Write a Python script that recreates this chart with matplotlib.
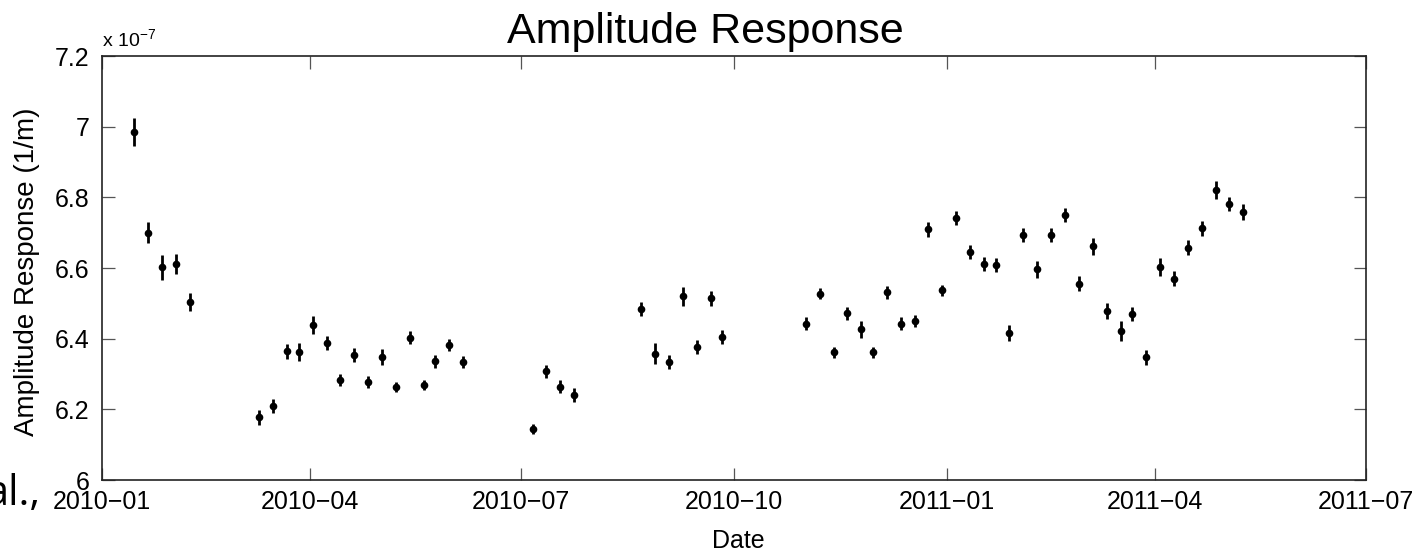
import matplotlib
matplotlib.use("Agg")
import matplotlib.pyplot as plt
import matplotlib.dates as mdates
import numpy as np
import pandas as pd

plt.rcParams['font.family'] = ['Liberation Sans', 'DejaVu Sans']
plt.rcParams['mathtext.default'] = 'regular'

# ---- data ----
dates = [
    "2010-01-15", "2010-01-21", "2010-01-27", "2010-02-02", "2010-02-08",
    "2010-03-10", "2010-03-16", "2010-03-22", "2010-03-27", "2010-04-02",
    "2010-04-08", "2010-04-14", "2010-04-20", "2010-04-26", "2010-05-02",
    "2010-05-08", "2010-05-14", "2010-05-20", "2010-05-25", "2010-05-31",
    "2010-06-06", "2010-07-06", "2010-07-12", "2010-07-18", "2010-07-24",
    "2010-08-22", "2010-08-28", "2010-09-03", "2010-09-09", "2010-09-15",
    "2010-09-21", "2010-09-26", "2010-11-01", "2010-11-07", "2010-11-13",
    "2010-11-19", "2010-11-25", "2010-11-30", "2010-12-06", "2010-12-12",
    "2010-12-18", "2010-12-24", "2010-12-30", "2011-01-05", "2011-01-11",
    "2011-01-17", "2011-01-22", "2011-01-28", "2011-02-03", "2011-02-09",
    "2011-02-15", "2011-02-21", "2011-02-27", "2011-03-05", "2011-03-11",
    "2011-03-17", "2011-03-22", "2011-03-28", "2011-04-03", "2011-04-09",
    "2011-04-15", "2011-04-21", "2011-04-27", "2011-05-03", "2011-05-09",
]
# amplitude response in units of 1e-7 (1/m)
amplitude = [
    6.985, 6.700, 6.602, 6.611, 6.504,
    6.177, 6.210, 6.364, 6.362, 6.439,
    6.387, 6.283, 6.354, 6.277, 6.348,
    6.263, 6.403, 6.269, 6.336, 6.382,
    6.333, 6.144, 6.308, 6.264, 6.240,
    6.485, 6.358, 6.334, 6.520, 6.377,
    6.514, 6.405, 6.442, 6.527, 6.361,
    6.472, 6.426, 6.361, 6.531, 6.442,
    6.450, 6.709, 6.537, 6.742, 6.646,
    6.612, 6.609, 6.416, 6.694, 6.596,
    6.694, 6.749, 6.556, 6.661, 6.478,
    6.422, 6.471, 6.347, 6.602, 6.570,
    6.658, 6.712, 6.821, 6.781, 6.758,
]
# half-length of the error bars, same units
error = [
    0.040, 0.030, 0.035, 0.028, 0.025,
    0.020, 0.020, 0.022, 0.025, 0.025,
    0.020, 0.018, 0.020, 0.018, 0.022,
    0.015, 0.018, 0.015, 0.018, 0.016,
    0.017, 0.015, 0.018, 0.018, 0.020,
    0.020, 0.030, 0.020, 0.027, 0.020,
    0.022, 0.020, 0.018, 0.015, 0.015,
    0.018, 0.025, 0.015, 0.018, 0.018,
    0.016, 0.020, 0.016, 0.020, 0.020,
    0.020, 0.020, 0.022, 0.020, 0.025,
    0.020, 0.020, 0.022, 0.025, 0.022,
    0.028, 0.020, 0.022, 0.025, 0.022,
    0.020, 0.022, 0.025, 0.020, 0.022,
]
scale = 1e-7
x_ticks = ["2010-01-01", "2010-04-01", "2010-07-01", "2010-10-01",
           "2011-01-01", "2011-04-01", "2011-07-01"]
x_tick_labels = ["2010\u221201", "2010\u221204", "2010\u221207", "2010\u221210",
                 "2011\u221201", "2011\u221204", "2011\u221207"]
y_ticks = [6.0, 6.2, 6.4, 6.6, 6.8, 7.0, 7.2]
y_tick_labels = ["6", "6.2", "6.4", "6.6", "6.8", "7", "7.2"]

# ---- figure ----
W, H = 1426, 553
fig = plt.figure(figsize=(W / 100, H / 100), dpi=100)
ax = fig.add_axes([102 / W, 1 - 480 / H, (1366 - 102) / W, (480 - 56) / H])

x = pd.to_datetime(dates)
y = np.array(amplitude) * scale
e = np.array(error) * scale

ax.errorbar(x, y, yerr=e, fmt='o', color='black', ecolor='black',
            elinewidth=2.0, capsize=0, markersize=5.5, markeredgewidth=0)

ax.set_xlim(pd.Timestamp(x_ticks[0]), pd.Timestamp(x_ticks[-1]))
ax.set_ylim(y_ticks[0] * scale, y_ticks[-1] * scale)
ax.set_xticks(pd.to_datetime(x_ticks))
ax.set_xticklabels(x_tick_labels)
ax.set_yticks(np.array(y_ticks) * scale)
ax.set_yticklabels(y_tick_labels)

ax.tick_params(axis='both', direction='in', length=9, width=0.9,
               color='#555555', labelsize=18, labelcolor='black',
               top=True, right=True)
ax.tick_params(axis='x', pad=7)
ax.tick_params(axis='y', pad=9)
for s in ax.spines.values():
    s.set_color('#222222')
    s.set_linewidth(1.2)

# title, labels, multiplier
fig.text(705 / W, 1 - 43 / H, "Amplitude Response", fontsize=31,
         ha='center', va='baseline')
fig.text(27 / W, 1 - 272 / H, "Amplitude Response (1/m)", fontsize=20,
         rotation=90, ha='center', va='center')
fig.text(738 / W, 1 - 548 / H, "Date", fontsize=18, ha='center', va='baseline')
fig.text(102 / W, 1 - 46 / H, r"x 10$^{-7}$", fontsize=14,
         ha='left', va='baseline')

# cut-off fragment of surrounding slide text
fig.text(40 / W, 1 - 505 / H, "al.,", fontsize=30, ha='right', va='baseline',
         family=['Open Sans', 'DejaVu Sans'])

fig.savefig("out.png", dpi=100)
